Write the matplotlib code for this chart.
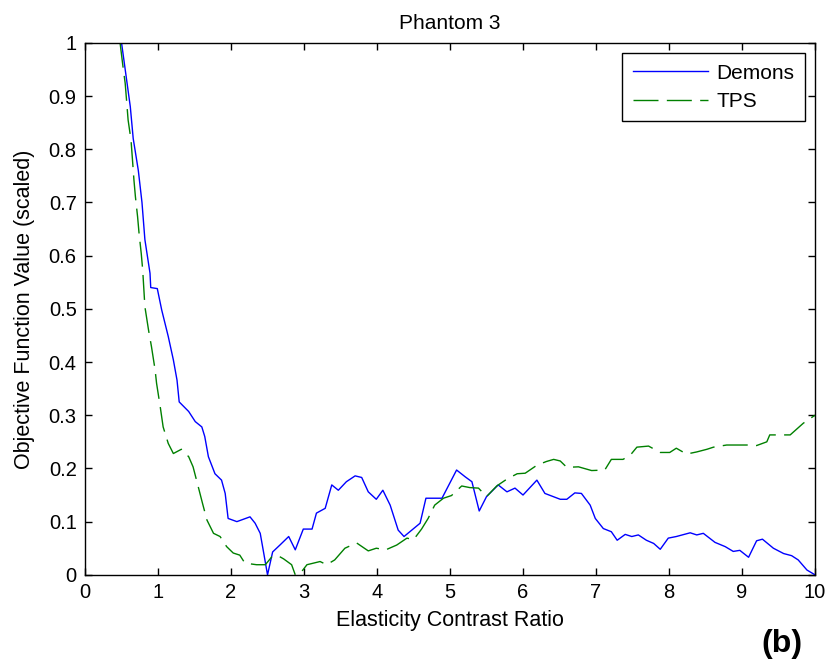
import numpy as np
import matplotlib.pyplot as plt

# Demons curve
demons_x = [0.50, 0.57, 0.62, 0.66, 0.73, 0.78, 0.82, 0.89, 0.90, 0.99, 1.05, 1.14,
            1.21, 1.26, 1.29, 1.42, 1.51, 1.60, 1.64, 1.69, 1.78, 1.87, 1.92, 1.96,
            2.08, 2.26, 2.33, 2.40, 2.44, 2.50, 2.57, 2.67, 2.79, 2.88, 2.99, 3.11,
            3.17, 3.29, 3.38, 3.47, 3.58, 3.70, 3.79, 3.88, 3.99, 4.08, 4.18, 4.29,
            4.37, 4.59, 4.67, 4.89, 5.09, 5.21, 5.30, 5.40, 5.50, 5.66, 5.78, 5.89,
            6.00, 6.19, 6.30, 6.51, 6.60, 6.71, 6.80, 6.92, 6.99, 7.10, 7.21, 7.29,
            7.40, 7.49, 7.58, 7.69, 7.79, 7.88, 7.99, 8.10, 8.29, 8.38, 8.47, 8.63,
            8.77, 8.88, 8.97, 9.09, 9.20, 9.28, 9.43, 9.57, 9.68, 9.77, 9.89, 10.0]
demons_y = [1.000, 0.930, 0.880, 0.820, 0.760, 0.700, 0.630, 0.567, 0.540, 0.538, 0.498, 0.448,
            0.404, 0.366, 0.325, 0.307, 0.288, 0.278, 0.260, 0.222, 0.190, 0.178, 0.153, 0.106,
            0.100, 0.109, 0.097, 0.078, 0.047, 0.000, 0.043, 0.056, 0.072, 0.047, 0.086, 0.086,
            0.116, 0.125, 0.169, 0.159, 0.175, 0.186, 0.183, 0.156, 0.142, 0.159, 0.131, 0.084,
            0.072, 0.097, 0.144, 0.144, 0.197, 0.184, 0.175, 0.120, 0.147, 0.169, 0.156, 0.163,
            0.150, 0.178, 0.153, 0.142, 0.142, 0.154, 0.153, 0.131, 0.106, 0.087, 0.081, 0.065,
            0.076, 0.072, 0.075, 0.065, 0.059, 0.048, 0.069, 0.072, 0.079, 0.075, 0.078, 0.061,
            0.053, 0.044, 0.046, 0.033, 0.064, 0.067, 0.050, 0.040, 0.036, 0.028, 0.009, 0.000]

# TPS curve
tps_x = [0.48, 0.52, 0.55, 0.57, 0.59, 0.63, 0.65, 0.67, 0.69, 0.72, 0.74, 0.77,
         0.79, 0.82, 0.87, 0.91, 0.96, 0.98, 1.03, 1.07, 1.14, 1.21, 1.32, 1.42,
         1.48, 1.55, 1.61, 1.67, 1.76, 1.85, 1.94, 2.03, 2.12, 2.19, 2.35, 2.47,
         2.56, 2.63, 2.72, 2.83, 2.88, 2.95, 3.04, 3.22, 3.31, 3.42, 3.56, 3.72,
         3.88, 3.99, 4.12, 4.27, 4.41, 4.50, 4.61, 4.70, 4.79, 4.91, 5.02, 5.16,
         5.27, 5.39, 5.50, 5.64, 5.78, 5.92, 6.03, 6.19, 6.32, 6.42, 6.51, 6.60,
         6.76, 6.94, 7.12, 7.21, 7.37, 7.47, 7.56, 7.72, 7.88, 8.01, 8.10, 8.24,
         8.38, 8.52, 8.61, 8.79, 9.11, 9.20, 9.34, 9.38, 9.66, 9.84, 10.0]
tps_y = [1.000, 0.955, 0.924, 0.890, 0.855, 0.817, 0.780, 0.742, 0.711, 0.673, 0.642, 0.604,
         0.573, 0.504, 0.460, 0.429, 0.385, 0.360, 0.316, 0.278, 0.247, 0.228, 0.236, 0.222,
         0.203, 0.166, 0.134, 0.103, 0.078, 0.072, 0.053, 0.041, 0.037, 0.022, 0.019, 0.019,
         0.034, 0.037, 0.030, 0.019, 0.000, 0.003, 0.019, 0.025, 0.019, 0.028, 0.050, 0.060,
         0.045, 0.050, 0.047, 0.056, 0.069, 0.066, 0.086, 0.106, 0.131, 0.144, 0.149, 0.167,
         0.164, 0.163, 0.147, 0.167, 0.180, 0.190, 0.191, 0.206, 0.213, 0.217, 0.214, 0.202,
         0.203, 0.196, 0.197, 0.217, 0.217, 0.225, 0.240, 0.242, 0.230, 0.230, 0.238, 0.227,
         0.231, 0.236, 0.240, 0.244, 0.244, 0.243, 0.250, 0.263, 0.263, 0.285, 0.300]

x_ticks = np.arange(0, 11, 1)
y_ticks = np.round(np.arange(0, 1.01, 0.1), 1)

plt.rcParams['font.family'] = ['Liberation Sans', 'DejaVu Sans']

fig = plt.figure(figsize=(8.28, 6.65), dpi=100)
ax = fig.add_axes([0.1027, 0.1356, 0.8816, 0.8000])

ax.plot(demons_x, demons_y, color='#0000ff', lw=1.0, label='Demons')
ax.plot(tps_x, tps_y, color='#008000', lw=1.0, dashes=(18, 6), label='TPS')

ax.set_xlim(0, 10)
ax.set_ylim(0, 1)
ax.set_xticks(x_ticks)
ax.set_yticks(y_ticks)
ax.set_xticklabels([str(v) for v in x_ticks])
ax.set_yticklabels(['0'] + [f'{v:g}' for v in y_ticks[1:]])
ax.tick_params(direction='in', top=True, right=True, length=5, width=1,
               labelsize=14.5, pad=6)
for s in ax.spines.values():
    s.set_linewidth(1.0)

ax.set_title('Phantom 3', fontsize=15, pad=10)
ax.set_xlabel('Elasticity Contrast Ratio', fontsize=15.5, labelpad=6)
ax.set_ylabel('Objective Function Value (scaled)', fontsize=15.5, labelpad=10)

leg = ax.legend(loc='upper right', fontsize=15, fancybox=False, framealpha=1,
                edgecolor='black', handlelength=3.6, handletextpad=0.4,
                labelspacing=0.45, borderpad=0.5, borderaxespad=0.5)
leg.get_frame().set_linewidth(1.0)

fig.text(0.944, 0.031, '(b)', fontsize=23, fontweight='bold', ha='center', va='center')

fig.savefig('out.png', dpi=100)
